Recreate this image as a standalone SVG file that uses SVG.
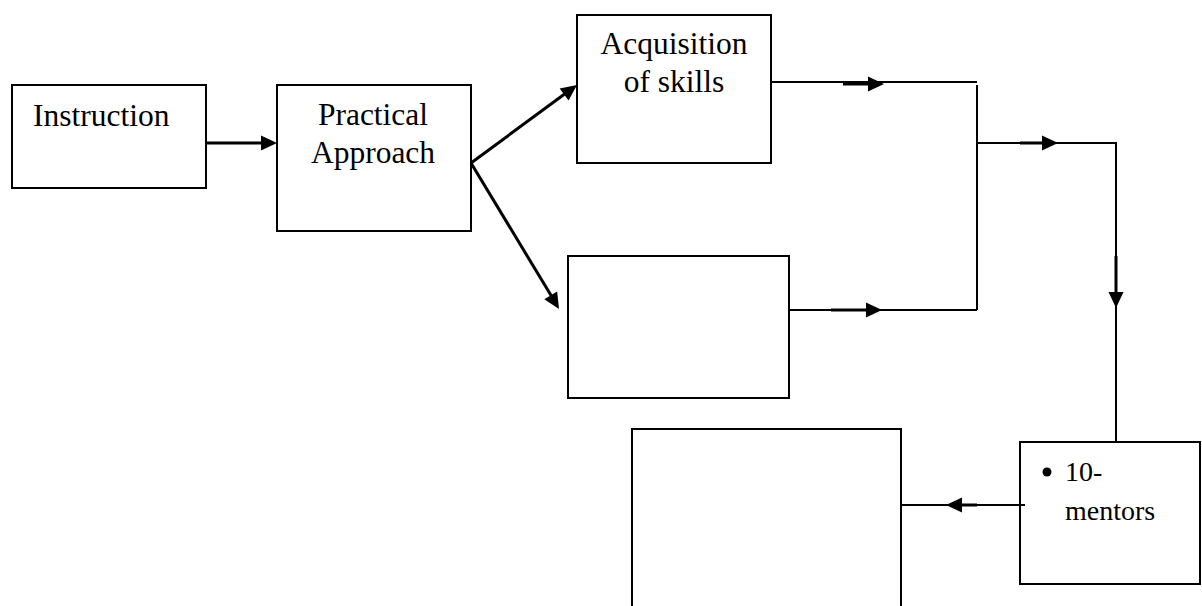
<svg xmlns="http://www.w3.org/2000/svg" width="1202" height="606" viewBox="0 0 1202 606">
<style>
.box{fill:#fff;stroke:#000;stroke-width:2}
.t{font-family:"Liberation Serif","Times New Roman",serif;font-size:31.5px;fill:#000}
.ts{font-family:"Liberation Serif","Times New Roman",serif;font-size:28px;fill:#000}
.ln{fill:none;stroke:#000;stroke-width:2}
.th{fill:none;stroke:#000;stroke-width:3}
.head{fill:#000;stroke:none}
</style>
<defs>
<polygon id="ah" class="head" points="0,0 -16,-7.5 -16,7.5"/>
</defs>
<rect width="1202" height="606" fill="#fff"/>
<g id="instruction">
<rect class="box" x="12" y="85" width="194" height="103"/>
<text class="t" x="33" y="126">Instruction</text>
</g>
<g id="practical">
<rect class="box" x="277" y="85" width="194" height="146"/>
<text class="t" x="373" y="125" text-anchor="middle">Practical</text>
<text class="t" x="373" y="163" text-anchor="middle">Approach</text>
</g>
<g id="acquisition">
<rect class="box" x="577" y="15" width="194" height="148"/>
<text class="t" x="674" y="54" text-anchor="middle">Acquisition</text>
<text class="t" x="674" y="92" text-anchor="middle">of skills</text>
</g>
<g id="lowerbox">
<rect class="box" x="568" y="256" width="221" height="142"/>
</g>
<g id="bigbox">
<rect class="box" x="632" y="429" width="269" height="200"/>
</g>
<g id="mentors">
<rect class="box" x="1020" y="442" width="180" height="142"/>
<circle cx="1047" cy="472" r="4.5" fill="#000"/>
<text class="ts" x="1065" y="481">10-</text>
<text class="ts" x="1065" y="520">mentors</text>
</g>
<g id="connectors">
<path class="th" d="M206,143 H265"/>
<use href="#ah" transform="translate(277,143)"/>
<path class="th" d="M471,163 L566,93"/>
<use href="#ah" transform="translate(577,85) rotate(-36.35)"/>
<path class="th" d="M471,163 L552,297"/>
<use href="#ah" transform="translate(559,309) rotate(58.9)"/>
<path class="ln" d="M771,82 H977"/>
<path class="th" d="M843,84 H872"/>
<use href="#ah" transform="translate(884,84)"/>
<path class="ln" d="M977,85 V310"/>
<path class="ln" d="M789,310 H977"/>
<path class="th" d="M831,310 H870"/>
<use href="#ah" transform="translate(882,310)"/>
<path class="ln" d="M977,143 H1116 V442"/>
<path class="th" d="M1020,143 H1046"/>
<use href="#ah" transform="translate(1058,143)"/>
<path class="th" d="M1116,256 V296"/>
<use href="#ah" transform="translate(1116,308) rotate(90)"/>
<path class="ln" d="M1025,505 H901"/>
<path class="th" d="M977,505 H958"/>
<use href="#ah" transform="translate(946,505) rotate(180)"/>
</g>
</svg>
